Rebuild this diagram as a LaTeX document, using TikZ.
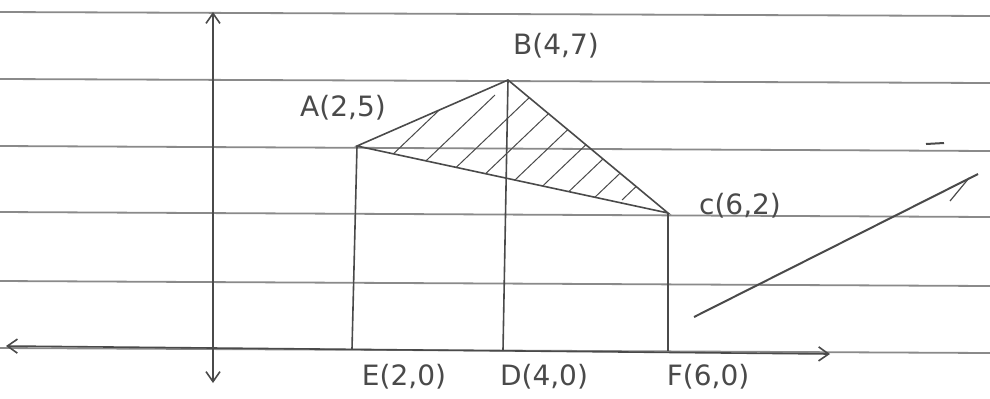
\documentclass[tikz,border=0pt]{standalone}
\usepackage{fontspec}
\setmainfont{DejaVu Sans}
\usetikzlibrary{arrows.meta}
\definecolor{pencil}{HTML}{4A4A4A}
\definecolor{rule}{HTML}{8A8A8A}
\begin{document}
\begin{tikzpicture}[x=0.5pt,y=-0.5pt,
  ruled/.style={draw=rule,line width=0.9pt},
  pen/.style={draw=pencil,line width=0.8pt},
  axis/.style={draw=pencil,line width=0.8pt,-{Straight Barb[length=5pt,width=7pt]}},
  hatch/.style={draw=pencil,line width=0.5pt},
  lbl/.style={text=pencil,font=\fontsize{14}{16}\selectfont,inner sep=1pt}]
\fill[white] (0,0) rectangle (990,398);
\useasboundingbox (0,0) rectangle (990,398);
% ruled paper lines
\foreach \ya/\yb in {12/16, 79/83, 146/151, 212/217, 281/286, 348/353}
  \draw[ruled] (0,\ya) -- (990,\yb);
% points
\coordinate (A) at (357,146);
\coordinate (B) at (508,80);
\coordinate (C) at (668,213);
\coordinate (E) at (352,349);
\coordinate (D) at (503,350);
\coordinate (F) at (668,351);
\coordinate (ytop) at (213,12);
\coordinate (ybot) at (213,383);
\coordinate (xl) at (6,346);
\coordinate (xr) at (830,354);
\coordinate (yc) at (213,348);
% axes
\draw[axis] (yc) -- (ytop);
\draw[axis] (yc) -- (ybot);
\draw[axis] (yc) -- (xl);
\draw[axis] (yc) -- (xr);
% hatching
\begin{scope}
  \clip (A) -- (B) -- (C) -- cycle;
  \foreach \s in {345,385,422,458,494,528,560,592,622}
    \draw[hatch] (\s,200) -- ++(110,-105);
\end{scope}
% triangle and verticals
\draw[pen] (A) -- (B) -- (C) -- cycle;
\draw[pen] (A) -- (E);
\draw[pen] (B) -- (D);
\draw[pen] (C) -- (F);
% stray arrow at right
\coordinate (s1) at (694,317);
\coordinate (s2) at (978,174);
\coordinate (s3) at (950,201);
\coordinate (s4) at (969,178);
\draw[pen,line width=1pt] (s1) -- (s2);
\draw[pen,line width=0.6pt] (s3) -- (s4);
\coordinate (m1) at (926,144);
\coordinate (m2) at (944,143);
\draw[pen,line width=1pt] (m1) -- (m2);
% labels
\node[lbl] (lB) at (556,46) {B(4,7)};
\node[lbl] (lA) at (343,108) {A(2,5)};
\node[lbl] (lC) at (740,206) {c(6,2)};
\node[lbl] (lE) at (404,377) {E(2,0)};
\node[lbl] (lD) at (544,377) {D(4,0)};
\node[lbl] (lF) at (708,377) {F(6,0)};
\end{tikzpicture}
\end{document}
